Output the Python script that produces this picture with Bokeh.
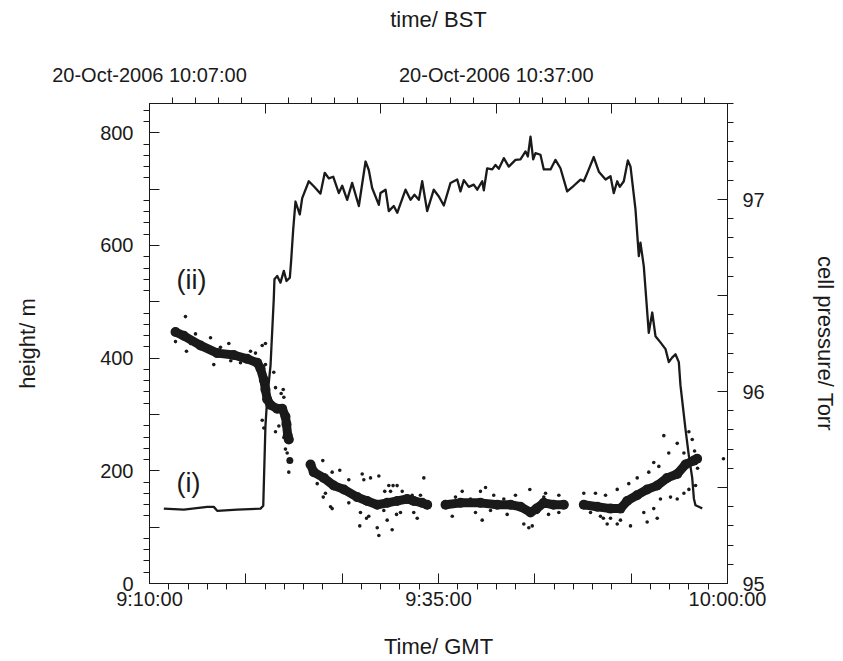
from bokeh.plotting import figure
from bokeh.models import Range1d, LinearAxis, FixedTicker
from bokeh.core.properties import value
from bokeh.embed import file_html
from bokeh.resources import INLINE

FONT = "Liberation Sans"
INK = "#1a1a1a"

# ---------------- data (time in minutes after 09:00 GMT) ----------------
# (ii) height of the aircraft, m  (left axis)
height_t = [11.24, 12.97, 14.99, 15.56, 15.86, 17.59, 19.60, 19.84, 20.03, 20.18,
            20.47, 20.75, 20.81, 21.05, 21.33, 21.62, 21.85, 22.14, 22.26, 22.43,
            22.63, 23.00, 23.21, 23.78, 24.21, 24.79, 25.16, 25.51, 25.89, 26.38,
            26.67, 27.10, 27.53, 28.11, 28.69, 28.97, 29.26, 29.84, 29.98, 30.42,
            30.70, 31.13, 31.43, 32.15, 32.58, 32.92, 33.30, 33.59, 34.02, 34.59,
            35.03, 35.46, 36.04, 36.62, 36.90, 37.19, 37.62, 38.05, 38.35, 38.78,
            38.92, 39.21, 39.65, 39.93, 40.22, 40.65, 41.08, 41.66, 42.09, 42.53,
            42.73, 42.96, 43.19, 43.39, 43.82, 44.11, 44.69, 45.12, 45.55, 46.13,
            46.70, 47.28, 47.57, 48.00, 48.43, 48.87, 49.45, 49.88, 50.16, 50.46,
            50.68, 51.03, 51.38, 51.61, 52.04, 52.33, 52.47, 52.76, 53.19, 53.49,
            53.77, 54.20, 54.64, 54.92, 55.21, 55.50, 55.79, 55.93, 56.36, 56.65,
            56.95, 57.09, 57.23, 57.66, 57.81]
height_m = [133, 131, 136, 136, 129, 131, 133, 138, 280, 328,
            387, 505, 540, 546, 534, 555, 537, 543, 575, 628,
            678, 655, 684, 714, 705, 692, 729, 719, 722, 693,
            706, 681, 711, 670, 749, 734, 702, 672, 693, 699,
            661, 670, 658, 699, 681, 690, 681, 714, 661, 699,
            687, 671, 711, 717, 696, 716, 704, 708, 699, 714,
            698, 737, 735, 743, 736, 755, 740, 752, 753, 767,
            758, 793, 753, 764, 761, 735, 735, 752, 737, 696,
            706, 717, 714, 735, 757, 731, 717, 723, 693, 714,
            704, 714, 751, 740, 664, 581, 605, 563, 445, 481,
            439, 428, 416, 393, 401, 407, 393, 352, 275, 228,
            187, 151, 139, 135, 133]

# (i) cell pressure, Torr (right axis): dense core of the samples, per data segment
core1_t = [12.25, 12.97, 14.41, 15.86, 17.29, 18.45, 19.32, 19.60, 19.89, 20.03,
           20.18, 20.47, 21.05, 21.48, 21.76, 21.85, 21.96, 22.05]
core1_p = [96.31, 96.29, 96.24, 96.20, 96.19, 96.17, 96.15, 96.12, 96.06, 96.01,
           95.96, 95.93, 95.91, 95.91, 95.87, 95.83, 95.77, 95.75]
core2_t = [23.93, 24.21, 25.08, 25.94, 26.81, 27.97, 28.83, 29.70, 30.56, 31.43,
           32.29, 32.86, 33.59, 34.02]
core2_p = [95.62, 95.58, 95.55, 95.51, 95.49, 95.45, 95.43, 95.41, 95.42, 95.43,
           95.44, 95.43, 95.42, 95.41]
core3_t = [35.61, 36.90, 38.63, 40.08, 41.23, 42.09, 42.96, 43.48, 44.11, 44.95, 45.84]
core3_p = [95.41, 95.42, 95.42, 95.41, 95.41, 95.40, 95.37, 95.39, 95.42, 95.41, 95.41]
core4_t = [47.57, 48.73, 49.88, 50.74, 51.32, 52.18, 53.05, 53.92, 54.78, 55.65,
           56.37, 57.09, 57.37]
core4_p = [95.41, 95.40, 95.39, 95.39, 95.43, 95.46, 95.49, 95.51, 95.55, 95.57,
           95.62, 95.64, 95.65]

# scattered individual samples
scat_t = [13.11, 12.25, 13.20, 15.28, 16.86, 15.56, 19.17, 19.75, 20.03, 20.03,
          20.75, 20.90, 21.57, 21.39, 21.62, 19.75, 19.89, 20.90, 21.19, 21.62,
          21.76, 21.91, 22.05, 13.98, 14.84, 16.14, 17.87, 18.74, 17.03, 13.55,
          24.99, 26.46, 25.80, 28.40, 29.84, 27.24, 28.54, 24.51, 25.22, 25.03,
          25.80, 27.24, 28.25, 28.97, 28.77, 28.19, 29.70, 29.84, 30.99, 30.56,
          30.70, 31.07, 31.42, 30.35, 30.85, 31.86, 32.72, 33.44, 33.73, 33.16,
          32.86, 31.71, 30.27, 31.37, 25.66, 29.12,
          37.05, 39.07, 38.63, 39.78, 42.90, 38.78, 42.38, 42.81, 43.11, 36.19,
          40.94, 44.11, 45.41, 45.41, 43.54, 37.77, 40.65, 36.47, 41.66, 44.52,
          38.20, 39.50, 44.26,
          54.49, 55.65, 56.66, 56.95, 56.23, 54.92, 53.62, 54.06, 53.19, 52.19,
          51.46, 50.46, 49.45, 48.58, 47.57, 48.15, 49.01, 49.88, 50.46, 51.61,
          49.59, 52.76, 53.62, 54.20, 55.07, 55.65, 56.23, 56.66, 57.24, 53.92,
          53.05, 50.74, 49.26, 59.65, 57.15, 57.41]
scat_p = [96.39, 96.26, 96.21, 96.28, 96.25, 96.14, 96.20, 96.24, 96.25, 96.14,
          96.10, 96.02, 96.01, 95.99, 95.97, 95.85, 95.81, 95.79, 95.82, 95.76,
          95.70, 95.68, 95.58, 96.30, 96.22, 96.23, 96.15, 96.21, 96.16, 96.25,
          95.64, 95.59, 95.58, 95.57, 95.56, 95.54, 95.54, 95.52, 95.47, 95.45,
          95.39, 95.42, 95.37, 95.35, 95.34, 95.30, 95.29, 95.25, 95.28, 95.33,
          95.51, 95.51, 95.51, 95.48, 95.48, 95.48, 95.46, 95.46, 95.55, 95.34,
          95.37, 95.37, 95.38, 95.36, 95.40, 95.55,
          95.48, 95.50, 95.48, 95.46, 95.49, 95.33, 95.31, 95.29, 95.30, 95.35,
          95.36, 95.45, 95.46, 95.37, 95.37, 95.44, 95.44, 95.45, 95.46, 95.36,
          95.37, 95.38, 95.47,
          95.77, 95.73, 95.79, 95.75, 95.68, 95.68, 95.63, 95.61, 95.58, 95.55,
          95.52, 95.49, 95.46, 95.47, 95.47, 95.37, 95.35, 95.34, 95.31, 95.30,
          95.31, 95.37, 95.39, 95.44, 95.45, 95.44, 95.47, 95.49, 95.51, 95.34,
          95.32, 95.33, 95.34, 95.65, 95.69, 95.60]
# a few heavy samples at the end of the first segment
blob_t = [21.96, 22.05, 22.14]
blob_p = [95.77, 95.75, 95.64]

# axis ticks
gmt_ticks = [600, 1100, 1600, 2100, 2600, 3100, 3600]          # s after 09:00 GMT
gmt_labels = {600: "9:10:00", 2100: "9:35:00", 3600: "10:00:00"}
bst_ticks = [420, 1020, 1620, 2220, 2820, 3420]                # s after 10:00 BST
bst_labels = {420: "20-Oct-2006 10:07:00", 2220: "20-Oct-2006 10:37:00"}
h_ticks = [0, 100, 200, 300, 400, 500, 600, 700, 800]
h_labels = [0, 200, 400, 600, 800]
p_ticks = [95, 95.5, 96, 96.5, 97]
p_labels = [95, 96, 97]


def sec(mins):
    return [m * 60 for m in mins]


p = figure(width=843, height=661, output_backend="svg", toolbar_location=None,
           x_range=Range1d(600, 3600), y_range=Range1d(0, 852),
           min_border_left=149, min_border_right=116,
           min_border_top=103, min_border_bottom=76)
p.extra_y_ranges = {"torr": Range1d(95, 97.5)}
p.extra_x_ranges = {"bst": Range1d(420, 3420)}
p.grid.visible = False
p.title.visible = False
p.outline_line_color = INK
p.outline_line_width = 1
p.background_fill_color = "white"
p.border_fill_color = "white"


def style(ax, size="20px"):
    ax.axis_line_color = INK
    ax.major_tick_line_color = INK
    ax.minor_tick_line_color = INK
    ax.major_label_text_font = FONT
    ax.major_label_text_font_size = size
    ax.major_label_text_color = INK
    ax.axis_label_text_font = FONT
    ax.axis_label_text_font_size = "22px"
    ax.axis_label_text_font_style = "normal"
    ax.axis_label_text_color = INK
    ax.major_tick_in = 10
    ax.major_tick_out = 0
    ax.minor_tick_in = 0
    ax.minor_tick_out = 6


# bottom axis (GMT)
xb = p.xaxis[0]
style(xb)
xb.ticker = FixedTicker(ticks=gmt_ticks,
                        minor_ticks=[t for t in range(600, 3601, 100) if t not in gmt_ticks])
xb.major_label_overrides = {t: gmt_labels.get(t, "") for t in gmt_ticks}
xb.major_label_standoff = -2
xb.axis_label = "Time/ GMT"
xb.axis_label_standoff = 21

# left axis (height)
yl = p.yaxis[0]
style(yl)
yl.ticker = FixedTicker(ticks=h_ticks,
                        minor_ticks=[t for t in range(0, 852, 20) if t not in h_ticks])
yl.major_label_overrides = {t: (str(t) if t in h_labels else "") for t in h_ticks}
yl.major_label_standoff = 10
yl.axis_label = "height/ m"
yl.axis_label_standoff = 57

# right axis (cell pressure)
yr = LinearAxis(y_range_name="torr")
style(yr)
yr.ticker = FixedTicker(ticks=p_ticks,
                        minor_ticks=[round(95 + 0.1 * i, 1) for i in range(26)
                                     if round(95 + 0.1 * i, 1) not in p_ticks])
yr.major_label_overrides = {t: (str(int(t)) if t in p_labels else "") for t in p_ticks}
yr.major_label_standoff = 9
yr.axis_label = "cell pressure/ Torr"
yr.axis_label_standoff = 45
p.add_layout(yr, "right")

# top axis (BST)
xt = LinearAxis(x_range_name="bst")
style(xt)
xt.ticker = FixedTicker(ticks=bst_ticks,
                        minor_ticks=[t for t in range(420, 3421, 120) if t not in bst_ticks])
xt.major_label_overrides = {t: bst_labels.get(t, "") for t in bst_ticks}
xt.major_label_standoff = 12
xt.axis_label = "time/ BST"
xt.axis_label_standoff = 29
p.add_layout(xt, "above")

# (ii) height trace
p.line(sec(height_t), height_m, line_color=INK, line_width=2.3, line_join="round")

# (i) cell pressure samples
for ct, cp in [(core1_t, core1_p), (core2_t, core2_p), (core3_t, core3_p), (core4_t, core4_p)]:
    p.line(sec(ct), cp, y_range_name="torr", line_color=INK, line_width=9,
           line_cap="round", line_join="round")
    p.scatter(sec(ct), cp, y_range_name="torr", size=10, marker="circle",
              fill_color=INK, line_color=None)
p.scatter(sec(scat_t), scat_p, y_range_name="torr", size=3.6, marker="circle",
          fill_color=INK, line_color=None)
p.scatter(sec(blob_t), blob_p, y_range_name="torr", size=7, marker="circle",
          fill_color=INK, line_color=None)

# curve labels
p.text(x=sec([12.34, 12.34]), y=[179, 539], text=["(i)", "(ii)"],
       text_font=value(FONT), text_font_size="27px", text_baseline="middle",
       text_align="left", text_color=INK)

open("out.html", "w").write(file_html(p, INLINE))
